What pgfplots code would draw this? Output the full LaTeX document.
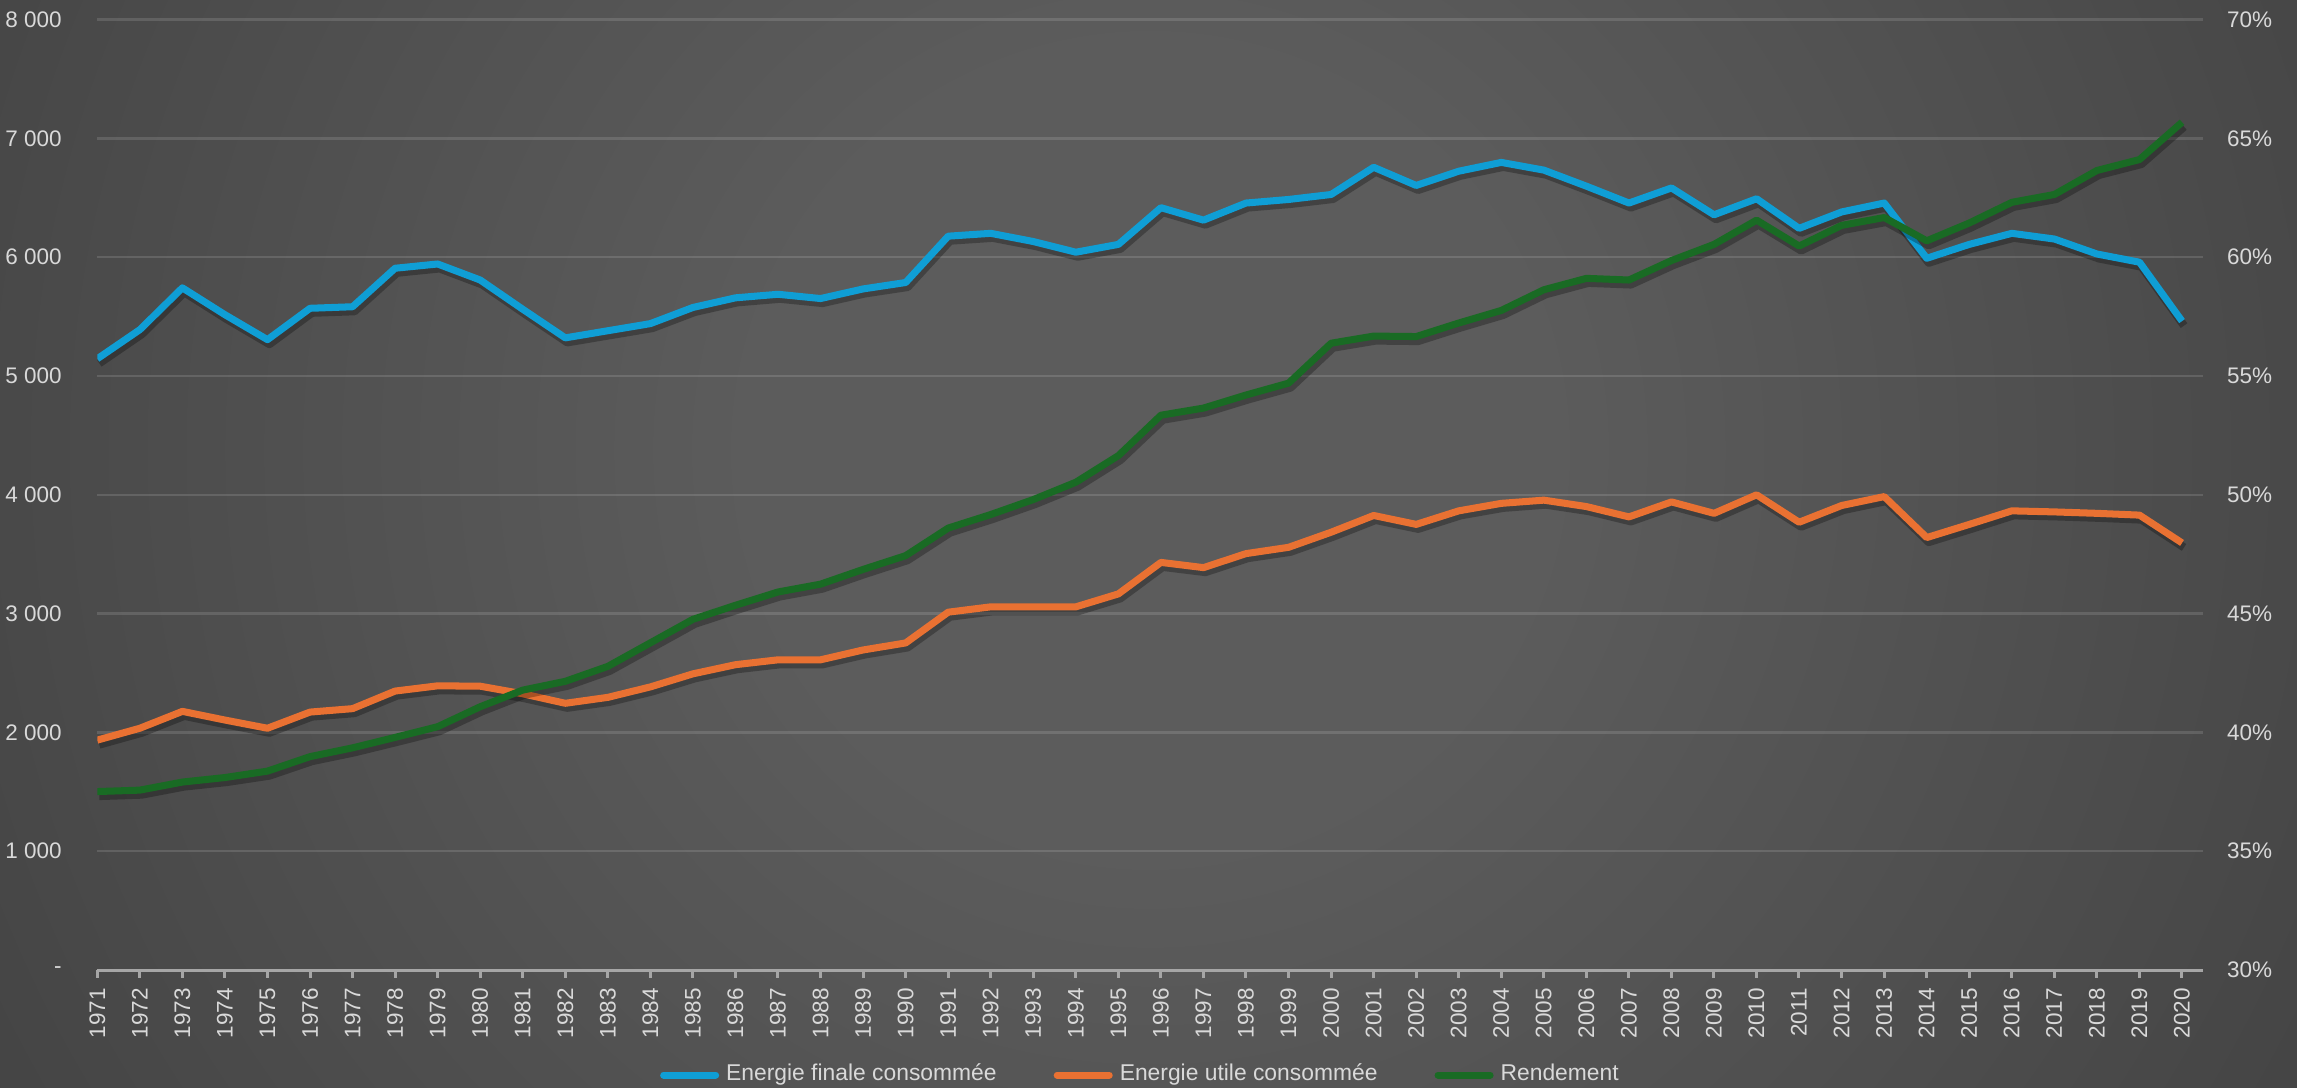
\documentclass[border=0pt]{standalone}
\usepackage{fontspec}
\setmainfont{Liberation Sans}
\usepackage{pgfplots}
\usepackage{pgfplotstable}
\pgfplotsset{compat=1.18}

\definecolor{cFin}{HTML}{0F9ED5}
\definecolor{cUtil}{HTML}{E97132}
\definecolor{cRend}{HTML}{196B24}
\definecolor{lbl}{HTML}{D9D9D9}
\definecolor{axln}{HTML}{A6A6A6}
\definecolor{bg0}{HTML}{5C5C5C}
\definecolor{bg1}{HTML}{262626}
\pgfdeclareradialshading{bgshade}{\pgfpoint{0bp}{0bp}}{color(0bp)=(bg0); color(8bp)=(bg0); color(50bp)=(bg1)}

% year, final energy, useful energy, efficiency (%)
\pgfplotstableread{
year fin  util rend
1971 5145 1935 37.51
1972 5390 2035 37.57
1973 5742 2177 37.91
1974 5516 2104 38.10
1975 5306 2035 38.37
1976 5570 2171 38.98
1977 5583 2200 39.35
1978 5907 2348 39.79
1979 5943 2392 40.24
1980 5808 2389 41.08
1981 5562 2325 41.78
1982 5321 2245 42.15
1983 5381 2295 42.78
1984 5441 2383 43.77
1985 5577 2493 44.76
1986 5658 2570 45.35
1987 5688 2611 45.91
1988 5652 2611 46.24
1989 5733 2694 46.86
1990 5787 2753 47.44
1991 6177 3012 48.60
1992 6201 3057 49.17
1993 6132 3057 49.80
1994 6042 3057 50.53
1995 6108 3166 51.65
1996 6417 3431 53.35
1997 6312 3387 53.65
1998 6456 3505 54.20
1999 6486 3558 54.70
2000 6528 3685 56.38
2001 6757 3826 56.68
2002 6604 3751 56.66
2003 6724 3865 57.23
2004 6798 3928 57.76
2005 6733 3955 58.63
2006 6598 3901 59.11
2007 6456 3814 59.04
2008 6583 3940 59.86
2009 6357 3844 60.54
2010 6492 4000 61.56
2011 6243 3769 60.47
2012 6381 3910 61.34
2013 6456 3985 61.67
2014 5991 3640 60.69
2015 6108 3751 61.44
2016 6201 3865 62.31
2017 6153 3856 62.64
2018 6027 3844 63.65
2019 5958 3829 64.11
2020 5462 3595 65.68
}\energy

\pgfplotsset{
  chart base/.style={
    scale only axis, at={(9.73mm,11.8mm)}, anchor=south west,
    width=210.6mm, height=95.04mm,
    xmin=1971, xmax=2020.5,
    font=\fontsize{6.4}{7.7}\selectfont,
    tick label style={text=lbl},
    /pgf/number format/assume math mode=true,
  },
  serie/.style={line width=2pt, line join=round, mark=none},
  ombre/.style={black, opacity=0.28, line width=2.3pt, line join=round,
    mark=none, xshift=0.2mm, yshift=-0.45mm, forget plot},
}

\begin{document}
\begin{tikzpicture}
\path[use as bounding box] (0,0) rectangle (229.7mm,108.8mm);
\begin{scope}
  \clip (0,0) rectangle (229.7mm,108.8mm);
  \shade[shading=bgshade] (-10mm,-61.2mm) rectangle (240mm,188.8mm);
\end{scope}

\begin{axis}[
  chart base,
  ymin=0, ymax=8000,
  axis x line*=bottom, axis y line*=left,
  x axis line style={axln, line width=0.3mm},
  y axis line style={draw=none},
  xtick={1971,1972,...,2020},
  xticklabel style={rotate=90, anchor=east, inner sep=0pt,
    /pgf/number format/1000 sep={}},
  xticklabel shift=1.0mm,
  tick align=outside,
  xtick style={axln, line width=0.3mm},
  major tick length=0.75mm,
  ytick={0,1000,...,8000},
  yticklabels={-,1 000,2 000,3 000,4 000,5 000,6 000,7 000,8 000},
  yticklabel style={anchor=east, inner sep=0pt, xshift=-2.75mm},
  ytick style={draw=none},
  ymajorgrids, grid style={white, opacity=0.13, line width=0.25mm},
  legend columns=3,
  legend style={at={(axis description cs:0.4965,-0.1105)}, anchor=center,
    draw=none, fill=none, text=lbl, font=\fontsize{6.5}{7.8}\selectfont,
    inner sep=0pt,
    /tikz/every even column/.append style={column sep=5mm}},
  legend image code/.code={\draw[#1, line width=2pt, line cap=round]
    (0.3mm,0mm) -- (5.5mm,0mm);},
  legend cell align=left,
]
\addplot[ombre] table[x=year, y=fin] {\energy};
\addplot[ombre] table[x=year, y=util] {\energy};
\addplot[serie, cFin] table[x=year, y=fin] {\energy};
\addlegendentry{Energie finale consommée}
\addplot[serie, cUtil] table[x=year, y=util] {\energy};
\addlegendentry{Energie utile consommée}
\addlegendimage{serie, cRend}
\addlegendentry{Rendement}
\end{axis}

\begin{axis}[
  chart base,
  ymin=30, ymax=70,
  axis x line=none, axis y line*=right,
  y axis line style={draw=none},
  ytick={30,35,...,70},
  yticklabels={30\%,35\%,40\%,45\%,50\%,55\%,60\%,65\%,70\%},
  yticklabel style={anchor=west, inner sep=0pt, xshift=2.3mm},
  ytick style={draw=none},
]
\addplot[ombre] table[x=year, y=rend] {\energy};
\addplot[serie, cRend] table[x=year, y=rend] {\energy};
\end{axis}
\end{tikzpicture}
\end{document}
